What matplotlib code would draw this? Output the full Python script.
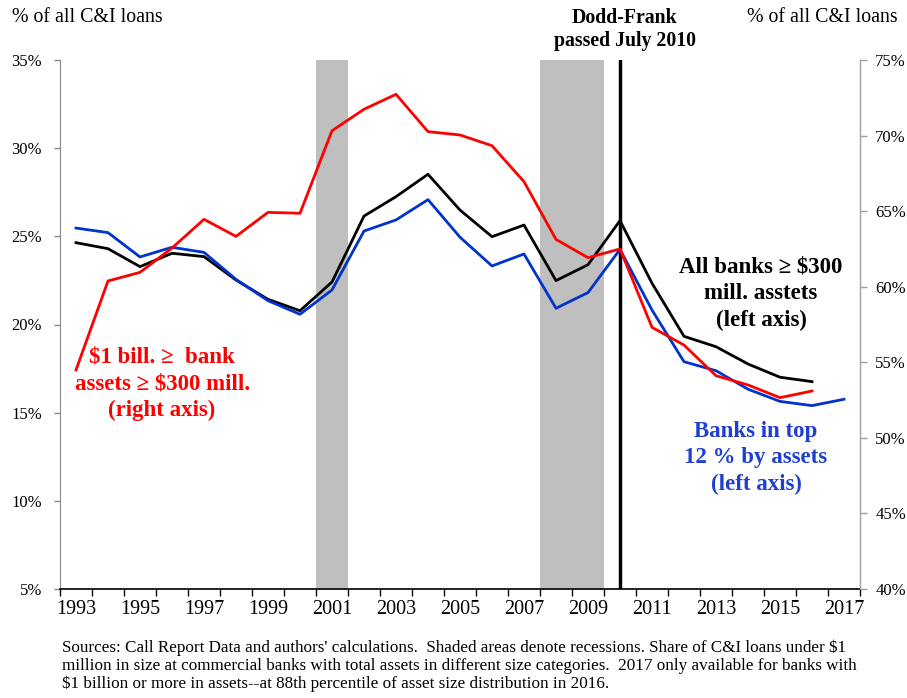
import numpy as np
import matplotlib
matplotlib.use("Agg")
import matplotlib.pyplot as plt
from matplotlib.ticker import FixedLocator, FuncFormatter

plt.rcParams['font.family'] = ['Liberation Serif', 'DejaVu Serif']

# Data
years = list(range(1993, 2018))
all_banks = [24.64, 24.30, 23.28, 24.04, 23.85, 22.52, 21.43, 20.78, 22.41, 26.15,
             27.25, 28.52, 26.49, 24.98, 25.64, 22.49, 23.39, 25.89, 22.34, 19.33,
             18.74, 17.76, 17.01, 16.76]
top12 = [25.47, 25.21, 23.83, 24.38, 24.09, 22.56, 21.35, 20.58, 21.96, 25.30,
         25.93, 27.08, 24.95, 23.32, 24.00, 20.92, 21.81, 24.26, 20.82, 17.89,
         17.38, 16.33, 15.64, 15.40, 15.76]
mid_banks = [54.49, 60.38, 60.95, 62.56, 64.46, 63.33, 64.92, 64.86, 70.32, 71.74,
             72.73, 70.26, 70.04, 69.33, 66.95, 63.13, 61.92, 62.50, 57.31, 56.14,
             54.11, 53.50, 52.66, 53.10]
recessions = [(2001, 2001), (2008, 2009)]
dodd_frank_year = 2010

red = "#FF0000"
blue = "#0033CC"

fig = plt.figure(figsize=(9.07, 6.98), dpi=100)
ax = fig.add_axes([60 / 907, 1 - 589 / 698, 800 / 907, 529 / 698])
ax2 = ax.twinx()

for start, end in recessions:
    ax.axvspan(start - 0.5, end + 0.5, color="#BFBFBF", lw=0, zorder=0)
ax.axvline(dodd_frank_year, color="black", lw=2.5, zorder=3)

ax.plot(years[:len(all_banks)], all_banks, color="black", lw=2, zorder=4)
ax.plot(years[:len(top12)], top12, color=blue, lw=2, zorder=4)
ax2.plot(years[:len(mid_banks)], mid_banks, color=red, lw=2, zorder=4)

ax.set_xlim(1992.5, 2017.5)
ax.set_ylim(5, 35)
ax2.set_ylim(40, 75)
ax.set_yticks(np.arange(5, 36, 5))
ax2.set_yticks(np.arange(40, 76, 5))
pct = FuncFormatter(lambda v, p: f"{v:.0f}%")
ax.yaxis.set_major_formatter(pct)
ax2.yaxis.set_major_formatter(pct)

# category style x axis: ticks at boundaries, labels at odd years
ax.xaxis.set_major_locator(FixedLocator(np.arange(1992.5, 2018, 1)))
ax.xaxis.set_major_formatter(FuncFormatter(lambda v, p: ""))
ax.xaxis.set_minor_locator(FixedLocator(np.arange(1993, 2018, 2)))
ax.xaxis.set_minor_formatter(FuncFormatter(lambda v, p: f"{v:.0f}"))
ax.tick_params(axis="x", which="major", direction="out", length=5, width=1)
ax.tick_params(axis="x", which="minor", length=0, pad=8, labelsize=14.5)
ax.tick_params(axis="y", direction="out", length=4, width=1, colors="#888888",
               labelcolor="black", labelsize=12, pad=9)
ax2.tick_params(axis="y", direction="out", length=5, width=1, colors="#A0A0A0",
                labelcolor="black", labelsize=12, pad=6)

for a in (ax, ax2):
    a.spines["top"].set_visible(False)
ax.spines["left"].set_color("#888888")
ax2.spines["left"].set_visible(False)
ax2.spines["right"].set_color("#A0A0A0")
ax2.spines["bottom"].set_visible(False)
ax.spines["bottom"].set_color("black")
ax.spines["bottom"].set_linewidth(1.2)

# axis titles
fig.text(12 / 907, 1 - 18 / 698, "% of all C&I loans", fontsize=14.3,
         ha="left", va="center")
fig.text(898 / 907, 1 - 17 / 698, "% of all C&I loans", fontsize=14.3,
         ha="right", va="center")
ax.text(0.706, 1.058, "Dodd-Frank\npassed July 2010", transform=ax.transAxes,
        fontsize=14.2, fontweight="bold", ha="center", va="center",
        linespacing=1.24)

# series labels
ax.text(1995.69, 16.63, "$1 bill. \u2265  bank\nassets \u2265 $300 mill.\n(right axis)",
        color=red, fontsize=16.5, fontweight="bold", ha="center", va="center",
        linespacing=1.35, parse_math=False, zorder=5)
ax.text(2014.41, 21.73, "All banks \u2265 $300\nmill. asstets\n(left axis)",
        color="black", fontsize=16.5, fontweight="bold", ha="center", va="center",
        linespacing=1.35, parse_math=False, zorder=5)
ax.text(2014.25, 12.43, "Banks in top\n12 % by assets\n(left axis)",
        color="#1F3FD0", fontsize=16.5, fontweight="bold", ha="center", va="center",
        linespacing=1.35, zorder=5)

source = ("Sources: Call Report Data and authors' calculations.  Shaded areas denote recessions. "
          "Share of C&I loans under $1\n"
          "million in size at commercial banks with total assets in different size categories.  "
          "2017 only available for banks with\n"
          "$1 billion or more in assets--at 88th percentile of asset size distribution in 2016.")
fig.text(62 / 907, 1 - 666 / 698, source, fontsize=12.3, ha="left", va="center",
         linespacing=1.16, parse_math=False)

fig.savefig("out.png", dpi=100)
